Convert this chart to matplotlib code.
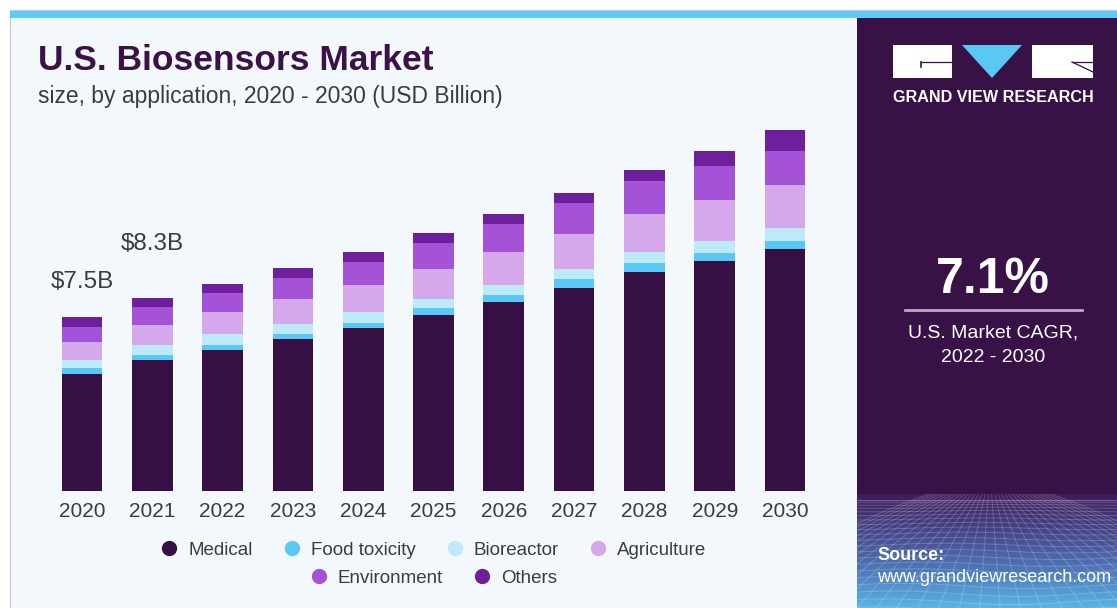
import numpy as np
import matplotlib
matplotlib.use("Agg")
import matplotlib.pyplot as plt
from matplotlib.patches import Rectangle, Polygon
from matplotlib.lines import Line2D
from matplotlib.colors import LinearSegmentedColormap

# ---- data (USD Billion) ----
years = ["2020", "2021", "2022", "2023", "2024", "2025", "2026", "2027", "2028", "2029", "2030"]
medical = [5.03, 5.63, 6.05, 6.52, 7.00, 7.56, 8.12, 8.74, 9.42, 9.88, 10.40]
food_toxicity = [0.27, 0.20, 0.23, 0.22, 0.24, 0.30, 0.31, 0.36, 0.37, 0.36, 0.34]
bioreactor = [0.34, 0.43, 0.46, 0.44, 0.45, 0.41, 0.43, 0.44, 0.49, 0.50, 0.58]
agriculture = [0.78, 0.90, 0.95, 1.06, 1.19, 1.28, 1.42, 1.52, 1.65, 1.78, 1.84]
environment = [0.64, 0.76, 0.82, 0.93, 0.96, 1.13, 1.19, 1.31, 1.41, 1.46, 1.45]
others = [0.44, 0.38, 0.40, 0.40, 0.46, 0.40, 0.43, 0.43, 0.47, 0.66, 0.92]
series_names = ["Medical", "Food toxicity", "Bioreactor", "Agriculture", "Environment", "Others"]
series_colors = ["#361045", "#5ac8f5", "#bde9f9", "#d4a8ea", "#a452d6", "#6d1f9c"]
value_labels = {0: "$7.5B", 1: "$8.3B"}
label_offsets_pt = {0: 17, 1: 31}
cagr_text = "7.1%"

plt.rcParams["font.family"] = ["Liberation Sans", "DejaVu Sans"]

W, H = 1117, 608
fig = plt.figure(figsize=(W / 100, H / 100), dpi=100)
fig.patch.set_facecolor("white")

# background layer in pixel coordinates
bg = fig.add_axes([0, 0, 1, 1])
bg.set_xlim(0, W)
bg.set_ylim(H, 0)
bg.axis("off")

PANEL = "#f3f8fc"
PURPLE = "#381247"
bg.add_patch(Rectangle((10, 10), W - 10, H - 10, facecolor=PANEL, edgecolor="#c8c8c8", lw=0.8))
bg.add_patch(Rectangle((10, 11), W - 10, 6.5, facecolor="#5ccbf5", edgecolor="none"))
bg.add_patch(Rectangle((857, 17.5), W - 857, H - 17.5, facecolor=PURPLE, edgecolor="none"))

# gradient footer of the side panel
grad_cmap = LinearSegmentedColormap.from_list(
    "footer", ["#3d1c5a", "#46468a", "#4f78b8", "#5ab4e6"])
grad = np.linspace(0, 1, 256).reshape(-1, 1)
bg.imshow(grad, extent=[857, W, H, 494], aspect="auto", cmap=grad_cmap, zorder=1)

# perspective mesh on the footer
clip = Rectangle((857, 494), W - 857, H - 494, transform=bg.transData, facecolor="none", edgecolor="none")
bg.add_patch(clip)
mesh_kw = dict(color="white", alpha=0.2, lw=0.7, zorder=2)
ts = np.linspace(0, 1, 22)
for t in ts:
    y = 500 + 110 * t ** 1.6
    xs = np.linspace(850, W, 80)
    ys = y + 3 * np.sin((xs - 850) / 40 + t * 4) * t
    ln, = bg.plot(xs, ys, **mesh_kw)
    ln.set_clip_path(clip)
vx, vy = 990, 470
for k in np.linspace(-1.6, 1.6, 34):
    xb = vx + k * 260
    xs = np.linspace(vx, xb, 40)
    ys = np.linspace(vy, 640, 40)
    ys = ys + 2 * np.sin(xs / 30)
    ln, = bg.plot(xs, ys, **mesh_kw)
    ln.set_clip_path(clip)

# logo
bg.add_patch(Rectangle((893, 45), 59, 33, facecolor="white", edgecolor="none", zorder=3))
bg.plot([921, 952], [62, 62], color=PURPLE, lw=0.9, zorder=4)
bg.plot([921, 921], [62, 67], color=PURPLE, lw=1.2, zorder=4)
bg.add_patch(Polygon([[962, 45], [1022, 45], [992, 78]], closed=True, facecolor="#5ac8f5", edgecolor="none", zorder=3))
bg.add_patch(Rectangle((1032, 45), 61, 33, facecolor="white", edgecolor="none", zorder=3))
bg.plot([1072, 1093], [62, 62], color=PURPLE, lw=0.9, zorder=4)
bg.plot([1072, 1093], [62, 72], color=PURPLE, lw=0.9, zorder=4)
bg.text(993, 97, "GRAND VIEW RESEARCH", color="white", fontsize=11.6, fontweight="bold",
        ha="center", va="center", zorder=4)

# CAGR callout
bg.text(993, 280, cagr_text, color="white", fontsize=36, fontweight="bold", ha="center", va="center")
bg.plot([905, 1082], [310, 310], color="#b9a8c8", lw=2)
bg.text(993, 333, "U.S. Market CAGR,", color="white", fontsize=14, ha="center", va="center")
bg.text(993, 357, "2022 - 2030", color="white", fontsize=14, ha="center", va="center")

# source
bg.text(877, 556, "Source:", color="white", fontsize=13, fontweight="bold", ha="left", va="center", zorder=5)
bg.text(877, 578, "www.grandviewresearch.com", color="white", fontsize=13, ha="left", va="center", zorder=5)

# titles
bg.text(38, 60, "U.S. Biosensors Market", color="#3a1248", fontsize=25.5, fontweight="bold",
        ha="left", va="center")
bg.text(38, 96, "size, by application, 2020 - 2030 (USD Billion)", color="#3c3c3c", fontsize=16.5,
        ha="left", va="center")

# ---- stacked bar chart ----
px_per_unit = 23.25
base_px, top_px = 491, 120
left_px, right_px = 40, 830
ax = fig.add_axes([left_px / W, (H - base_px) / H, (right_px - left_px) / W, (base_px - top_px) / H])
ax.patch.set_alpha(0)
x = np.arange(len(years))
spacing_px = 70.3
first_center_px = 82
ax.set_xlim((left_px - first_center_px) / spacing_px, (right_px - first_center_px) / spacing_px)
ax.set_ylim(0, (base_px - top_px) / px_per_unit)

series = [medical, food_toxicity, bioreactor, agriculture, environment, others]
bottom = np.zeros(len(years))
for vals, name, col in zip(series, series_names, series_colors):
    ax.bar(x, vals, bottom=bottom, width=0.58, color=col, edgecolor="none", label=name)
    bottom += np.array(vals)

for i, txt in value_labels.items():
    ax.annotate(txt, (x[i], bottom[i]), xytext=(0, label_offsets_pt[i]), textcoords="offset points",
                ha="center", va="bottom", fontsize=17.5, color="#3c3c3c")

ax.set_xticks(x)
ax.set_xticklabels(years, fontsize=15, color="#3c3c3c")
ax.tick_params(axis="x", length=0, pad=8)
ax.set_yticks([])
for s in ax.spines.values():
    s.set_visible(False)

# legend in two centered rows
handles = [Line2D([], [], marker="o", ls="none", markersize=11, markerfacecolor=c, markeredgecolor="none")
           for c in series_colors]
leg_kw = dict(frameon=False, fontsize=13.5, handletextpad=0.5, columnspacing=1.6,
              labelcolor="#3c3c3c", handlelength=1.0)
leg1 = fig.legend(handles[:4], series_names[:4], ncol=4, loc="center",
                  bbox_to_anchor=(433 / W, (H - 550) / H), **leg_kw)
leg2 = fig.legend(handles[4:], series_names[4:], ncol=2, loc="center",
                  bbox_to_anchor=(433 / W, (H - 578) / H), **leg_kw)

fig.savefig("out.png", dpi=100)
